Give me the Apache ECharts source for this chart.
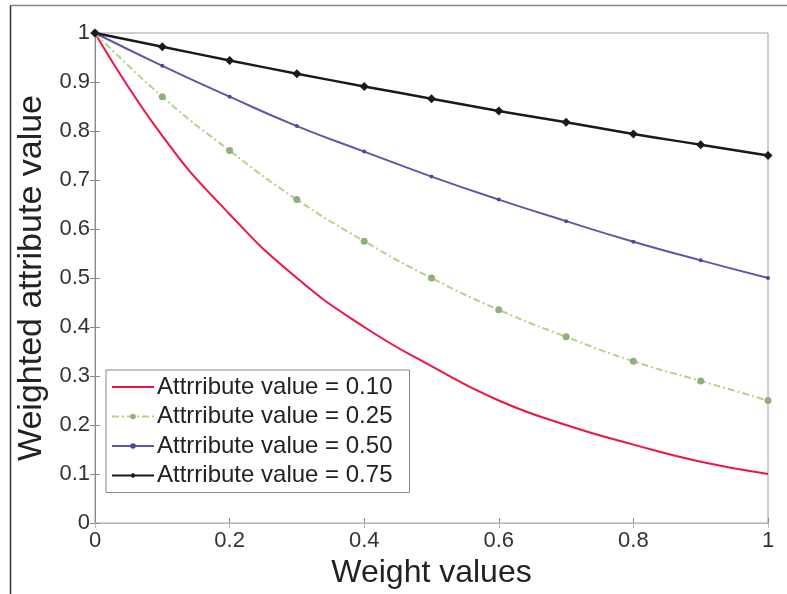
<!DOCTYPE html>
<html><head><meta charset="utf-8">
<script src="https://cdn.jsdelivr.net/npm/echarts@6/dist/echarts.min.js"></script>
<style>html,body{margin:0;padding:0;background:#fff}#c{width:787px;height:594px}</style>
</head><body><div id="c"></div>
<script>
const weights = [0, 0.1, 0.2, 0.3, 0.4, 0.5, 0.6, 0.7, 0.8, 0.9, 1];
const seriesNames = ['Attrribute value = 0.10', 'Attrribute value = 0.25', 'Attrribute value = 0.50', 'Attrribute value = 0.75'];
const attr010 = [1, 0.79, 0.63, 0.50, 0.40, 0.32, 0.25, 0.20, 0.16, 0.125, 0.10];
const attr025 = [1, 0.87, 0.76, 0.66, 0.575, 0.50, 0.435, 0.38, 0.33, 0.29, 0.25];
const attr050 = [1, 0.933, 0.87, 0.81, 0.758, 0.707, 0.66, 0.616, 0.574, 0.536, 0.50];
const attr075 = [1, 0.972, 0.944, 0.917, 0.891, 0.866, 0.841, 0.818, 0.794, 0.772, 0.75];
const xTicks = [0, 0.2, 0.4, 0.6, 0.8, 1];
const yTicks = [0, 0.1, 0.2, 0.3, 0.4, 0.5, 0.6, 0.7, 0.8, 0.9, 1];

const pair = arr => weights.map((w, i) => [w, arr[i]]);
const font = 'Liberation Sans, Arial, sans-serif';
const axisGray = '#8a8a8a';

const chart = echarts.init(document.getElementById('c'));
chart.setOption({
  animation: false,
  backgroundColor: '#fff',
  grid: { left: 95, top: 33, width: 673, height: 490, containLabel: false, outerBoundsMode: 'none', show: true, borderColor: '#a0a0a0', borderWidth: 1, backgroundColor: 'transparent' },
  graphic: [
    { type: 'line', shape: { x1: 10.5, y1: 5.5, x2: 787, y2: 5.5 }, style: { stroke: '#888', lineWidth: 1.5 } },
    { type: 'line', shape: { x1: 10.5, y1: 5.5, x2: 10.5, y2: 594 }, style: { stroke: '#333', lineWidth: 1.5 } }
  ],
  xAxis: [{
    type: 'value', min: 0, max: 1, interval: 0.2,
    name: 'Weight values', nameLocation: 'middle', nameGap: 34,
    nameTextStyle: { fontFamily: font, fontSize: 32, color: '#222' },
    axisLine: { show: true, lineStyle: { color: axisGray } },
    axisTick: { show: true, inside: true, length: 5, lineStyle: { color: axisGray } },
    axisLabel: { fontFamily: font, fontSize: 22, color: '#333', margin: 7, formatter: v => xTicks.includes(+v.toFixed(1)) ? String(+v.toFixed(1)) : '' },
    splitLine: { show: false }
  }, {
    type: 'value', min: 0, max: 1, interval: 0.2, position: 'top',
    axisLine: { show: true, lineStyle: { color: '#bbb' } },
    axisTick: { show: true, inside: true, length: 5, lineStyle: { color: '#bbb' } },
    axisLabel: { show: false }, splitLine: { show: false }
  }],
  yAxis: [{
    type: 'value', min: 0, max: 1, interval: 0.1,
    name: 'Weighted attribute value', nameLocation: 'middle', nameGap: 45,
    nameTextStyle: { fontFamily: font, fontSize: 34, color: '#222' },
    axisLine: { show: true, lineStyle: { color: axisGray } },
    axisTick: { show: true, inside: true, length: 5, lineStyle: { color: axisGray } },
    axisLabel: { fontFamily: font, fontSize: 22, color: '#333', margin: 5, formatter: v => { const t = +v.toFixed(1); return yTicks.includes(t) ? String(t) : ''; } },
    splitLine: { show: false }
  }, {
    type: 'value', min: 0, max: 1, interval: 0.1, position: 'right',
    axisLine: { show: true, lineStyle: { color: axisGray } },
    axisTick: { show: true, inside: true, length: 5, lineStyle: { color: axisGray } },
    axisLabel: { show: false }, splitLine: { show: false }
  }],
  legend: {
    orient: 'vertical', left: 106, top: 370,
    padding: [5, 17, 5, 5], itemGap: 5.5, itemWidth: 42, itemHeight: 7,
    borderColor: '#888', borderWidth: 1, backgroundColor: '#fff',
    textStyle: { fontFamily: font, fontSize: 24, color: '#222', lineHeight: 24, padding: [0, 0, 0, -2] },
    data: [
      { name: seriesNames[0], itemStyle: { opacity: 0 } },
      { name: seriesNames[1] },
      { name: seriesNames[2] },
      { name: seriesNames[3] }
    ]
  },
  series: [
    { name: seriesNames[0], type: 'line', data: pair(attr010), smooth: true, symbol: 'none',
      lineStyle: { color: '#ee1546', width: 2 }, itemStyle: { color: '#ee1546' } },
    { name: seriesNames[1], type: 'line', data: pair(attr025), smooth: true, symbol: 'circle', symbolSize: 7,
      lineStyle: { color: '#b9cf8a', width: 2, type: [7, 3, 2, 3] }, itemStyle: { color: '#8fb07a' } },
    { name: seriesNames[2], type: 'line', data: pair(attr050), smooth: true, symbol: 'circle', symbolSize: 4,
      lineStyle: { color: '#5a5aa8', width: 2 }, itemStyle: { color: '#4a4a9a' } },
    { name: seriesNames[3], type: 'line', data: pair(attr075), smooth: true, symbol: 'diamond', symbolSize: 9,
      lineStyle: { color: '#1a1a1a', width: 2.5 }, itemStyle: { color: '#1a1a1a' } }
  ]
});
</script></body></html>
